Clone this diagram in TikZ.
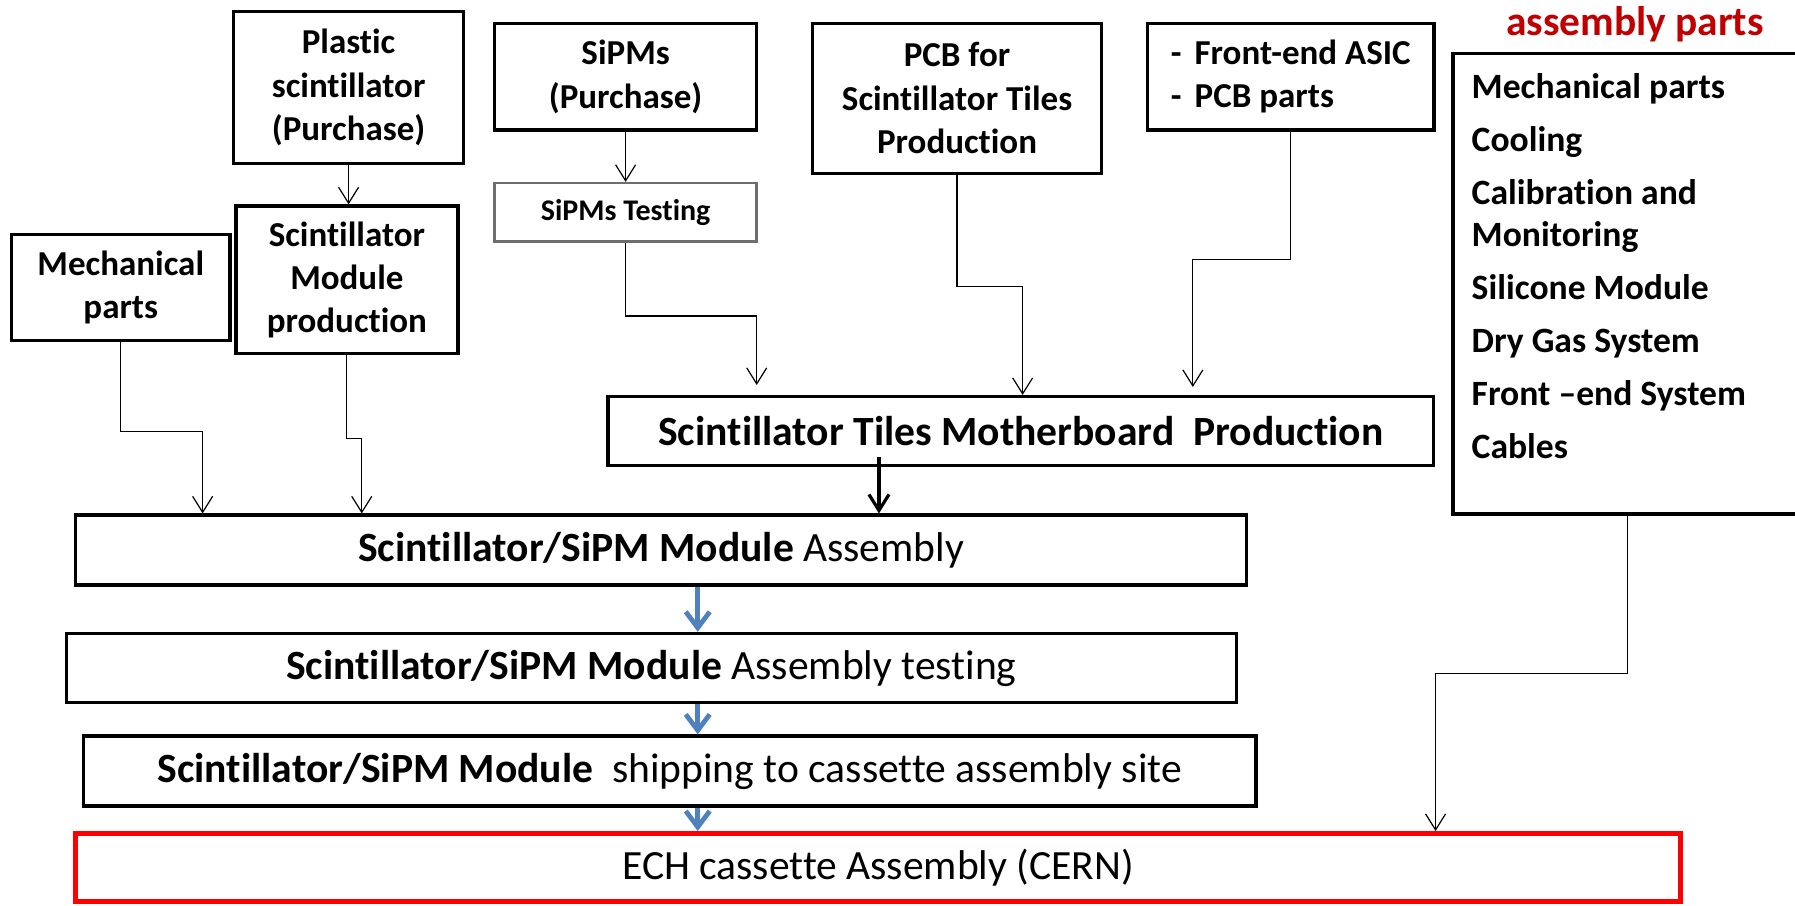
\documentclass[tikz,border=0pt]{standalone}
\usepackage{fontspec}
\setmainfont[Ligatures=NoCommon]{Carlito}
\usetikzlibrary{arrows.meta,calc}

\definecolor{FlowBlue}{RGB}{79,129,189}
\definecolor{TitleRed}{RGB}{192,0,0}
\definecolor{FrameGray}{RGB}{110,110,110}

\begin{document}
\begin{tikzpicture}[x=0.5724pt,y=-0.5724pt]
	\tikzstyle{BoxStyle}  = [shape=rectangle, draw, line width=1.7pt, inner sep=0pt, align=center, font=\fontsize{17.5}{21.7}\selectfont\bfseries]
	\tikzstyle{RowStyle}  = [BoxStyle, font=\fontsize{20.8}{25}\selectfont]
	\tikzstyle{EdgeStyle} = [-{Straight Barb[length=8pt,width=10pt]}, line width=0.6pt]
	\tikzstyle{FlowStyle} = [-{Straight Barb[length=8pt,width=12pt]}, line width=2.4pt, draw=FlowBlue]
	\tikzset{Size/.style 2 args={minimum width=#1*0.5724pt, minimum height=#2*0.5724pt}}

	\useasboundingbox (0,0) rectangle (1568,791);

	% suppliers
	\node[BoxStyle, Size={201}{132.5}] (PlasticScint) at (304.5,76.5) {Plastic\\scintillator\\(Purchase)};
	\node[BoxStyle, Size={229}{93.2}] (SiPMs) at (546.5,67) {SiPMs\\(Purchase)};
	\node[BoxStyle, Size={252.8}{131}] (PCBTiles) at (836,85.9) {PCB for\\Scintillator Tiles\\Production};
	\node[BoxStyle, Size={250}{93.2}, align=left] (FrontEnd) at (1127.5,67) {-\hspace{6.6pt}Front-end ASIC\\-\hspace{6.6pt}PCB parts};
	\node[BoxStyle, Size={191}{92.6}] (MechParts) at (105.5,251.3) {Mechanical\\parts};
	\node[BoxStyle, Size={194}{129}] (ScintModule) at (303,244.5) {Scintillator\\Module\\production};
	\node[BoxStyle, Size={229}{51}, draw=FrameGray, line width=1.3pt, font=\fontsize{15}{18}\selectfont\bfseries] (SiPMTest) at (546.5,185.5) {SiPMs Testing};

	% other parts
	\node[font=\fontsize{20.7}{24}\selectfont\bfseries, text=TitleRed] (PartsTitle) at (1428.2,21) {assembly parts};
	\node[BoxStyle, Size={340}{402.4}] (PartsBox) at (1439.3,247.8) {};
	\node[anchor=north west, align=left, inner sep=0pt, font=\fontsize{17.8}{20.8}\selectfont\bfseries] (PartsList) at (1285.2,64)
		{Mechanical parts\\[5.7pt] Cooling\\[5.7pt] Calibration and\\ Monitoring\\[5.7pt] Silicone Module\\[5.7pt]
		 Dry Gas System\\[5.7pt] Front –end System\\[5.7pt] Cables};

	% production chain
	\node[RowStyle, Size={721.4}{60}] (Motherboard) at (891.7,376.5) {\bfseries Scintillator Tiles Motherboard\ \ Production};
	\node[RowStyle, Size={1023}{61}] (ModAssembly) at (577.5,480.5) {\textbf{Scintillator/SiPM Module} Assembly};
	\node[RowStyle, Size={1022}{60.4}] (ModTesting) at (569,583.6) {\textbf{Scintillator/SiPM Module} Assembly testing};
	\node[RowStyle, Size={1024}{61}] (ModShipping) at (585,673.5) {\textbf{Scintillator/SiPM Module}\ \ shipping to cassette assembly site};
	\node[RowStyle, Size={1402}{59.6}, draw=red, line width=2.4pt] (ECHAssembly) at (767,757.8) {ECH cassette Assembly (CERN)};

	\coordinate (TestBend) at (661,276);
	\coordinate (PCBBend) at (893.3,250);
	\coordinate (FrontBend) at (1042,227);
	\coordinate (MechBend) at (177,377);
	\coordinate (ScintBend) at (316,383);
	\coordinate (BoardOut) at (767.8,0);
	\coordinate (Flow) at (609.5,0);
	\coordinate (PartsOut) at (1422,0);
	\coordinate (PartsBend) at (1254,588);

	\draw[EdgeStyle] (PlasticScint.south) -- (PlasticScint.south |- ScintModule.north);
	\draw[EdgeStyle] (SiPMs) -- (SiPMTest);
	\draw[EdgeStyle, shorten >=5pt] (SiPMTest.south) |- (TestBend) -- (TestBend |- Motherboard.north);
	\draw[EdgeStyle] (PCBTiles.south) |- (PCBBend) -- (PCBBend |- Motherboard.north);
	\draw[EdgeStyle, shorten >=4pt] (FrontEnd.south) |- (FrontBend) -- (FrontBend |- Motherboard.north);
	\draw[EdgeStyle] (MechParts.south) |- (MechBend) -- (MechBend |- ModAssembly.north);
	\draw[EdgeStyle] (ScintModule.south) |- (ScintBend) -- (ScintBend |- ModAssembly.north);
	\draw[-{Straight Barb[length=8pt,width=10pt]}, line width=1.6pt, shorten <=-5pt] (Motherboard.south -| BoardOut) -- (BoardOut |- ModAssembly.north);
	\draw[FlowStyle] (ModAssembly.south -| Flow) -- (ModTesting.north -| Flow);
	\draw[FlowStyle] (ModTesting.south -| Flow) -- (ModShipping.north -| Flow);
	\draw[FlowStyle] (ModShipping.south -| Flow) -- (ECHAssembly.north -| Flow);
	\draw[EdgeStyle] (PartsBox.south -| PartsOut) |- (PartsBend) -- (PartsBend |- ECHAssembly.north);
\end{tikzpicture}
\end{document}
